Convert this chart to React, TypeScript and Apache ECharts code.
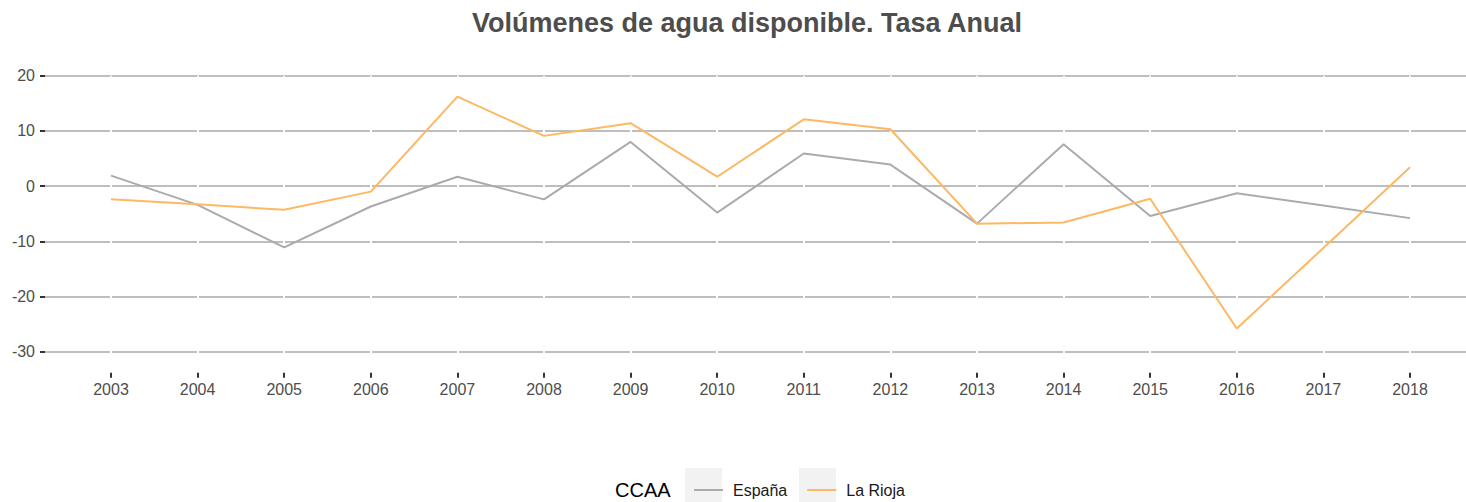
import React, { useEffect, useRef } from "react";
import * as echarts from "echarts";

const years = ["2003","2004","2005","2006","2007","2008","2009","2010","2011","2012","2013","2014","2015","2016","2017","2018"];
const espana = [1.9, -3.4, -11.1, -3.7, 1.7, -2.4, 8.0, -4.8, 5.9, 3.9, -6.8, 7.6, -5.4, -1.3, -3.5, -5.8];
const laRioja = [-2.4, -3.3, -4.3, -1.0, 16.2, 9.1, 11.4, 1.7, 12.1, 10.3, -6.8, -6.6, -2.3, -25.8, -11.2, 3.4];
const yTicks = { min: -30, max: 20, interval: 10 };
const title = "Volúmenes de agua disponible. Tasa Anual";
const legendTitle = "CCAA";

const FONT = "Liberation Sans, Arial, sans-serif";
const GRAY = "#ababab";
const ORANGE = "#fdb863";

export default function App() {
  const ref = useRef<HTMLDivElement>(null);
  useEffect(() => {
    if (!ref.current) return;
    const chart = echarts.init(ref.current, null, { renderer: "svg" });
    const top = 75.7;
    const pxPerUnit = 276 / (yTicks.max - yTicks.min);
    const extra = 21; // the x axis sits below the -30 gridline
    chart.setOption({
      animation: false,
      textStyle: { fontFamily: FONT },
      title: {
        text: title,
        left: 742,
        textAlign: "center",
        top: 4,
        textStyle: { fontFamily: FONT, fontSize: 27, fontWeight: "bold", color: "#4d4d4d" },
      },
      grid: [
        { left: 45, right: -10, top, height: 276 },
        { left: 111, right: 56, top, height: 276 + extra },
      ],
      xAxis: [
        { type: "value", gridIndex: 0, min: 0, max: 1, show: false },
        {
          type: "category",
          gridIndex: 1,
          data: years,
          boundaryGap: false,
          position: "bottom",
          z: 5,
          axisLine: { show: true, onZero: false, lineStyle: { color: "rgba(0,0,0,0)" } },
          axisTick: { show: true, length: 5, lineStyle: { color: "#333333", width: 2 } },
          axisLabel: { color: "#4d4d4d", fontSize: 16, margin: 9, fontFamily: FONT },
          splitLine: { show: true, lineStyle: { color: "#ffffff", width: 2 } },
        },
      ],
      yAxis: [
        {
          type: "value",
          gridIndex: 0,
          min: yTicks.min,
          max: yTicks.max,
          interval: yTicks.interval,
          z: 0,
          axisLine: { show: false },
          axisTick: { show: true, length: 5, lineStyle: { color: "#333333", width: 2 } },
          axisLabel: { color: "#4d4d4d", fontSize: 16, margin: 10, fontFamily: FONT },
          splitLine: { show: true, lineStyle: { color: "#bebebe", width: 2 } },
        },
        {
          type: "value",
          gridIndex: 1,
          min: yTicks.min - extra / pxPerUnit,
          max: yTicks.max,
          show: false,
          splitLine: { show: false },
        },
      ],
      legend: {
        data: ["España", "La Rioja"],
        left: 689,
        top: 477,
        icon: "rect",
        itemWidth: 29,
        itemHeight: 2,
        itemGap: 20,
        textStyle: { fontSize: 16, color: "#1a1a1a", fontFamily: FONT, padding: [0, 0, 0, 5] },
      },
      graphic: [
        { type: "rect", left: 685, top: 468, shape: { width: 37, height: 34 }, style: { fill: "#f2f2f2" }, z: -1 },
        { type: "rect", left: 799, top: 468, shape: { width: 37, height: 34 }, style: { fill: "#f2f2f2" }, z: -1 },
        {
          type: "text",
          left: 615,
          top: 480,
          style: { text: legendTitle, fontSize: 20, fill: "#000", fontFamily: FONT },
        },
      ],
      series: [
        {
          name: "España",
          type: "line",
          xAxisIndex: 1,
          yAxisIndex: 1,
          data: espana,
          showSymbol: false,
          symbol: "none",
          z: 6,
          lineStyle: { color: GRAY, width: 2 },
          itemStyle: { color: GRAY },
        },
        {
          name: "La Rioja",
          type: "line",
          xAxisIndex: 1,
          yAxisIndex: 1,
          data: laRioja,
          showSymbol: false,
          symbol: "none",
          z: 6,
          lineStyle: { color: ORANGE, width: 2 },
          itemStyle: { color: ORANGE },
        },
      ],
    });
    return () => chart.dispose();
  }, []);
  return <div ref={ref} style={{ width: 1466, height: 502, position: "absolute", left: 0, top: 0 }} />;
}
